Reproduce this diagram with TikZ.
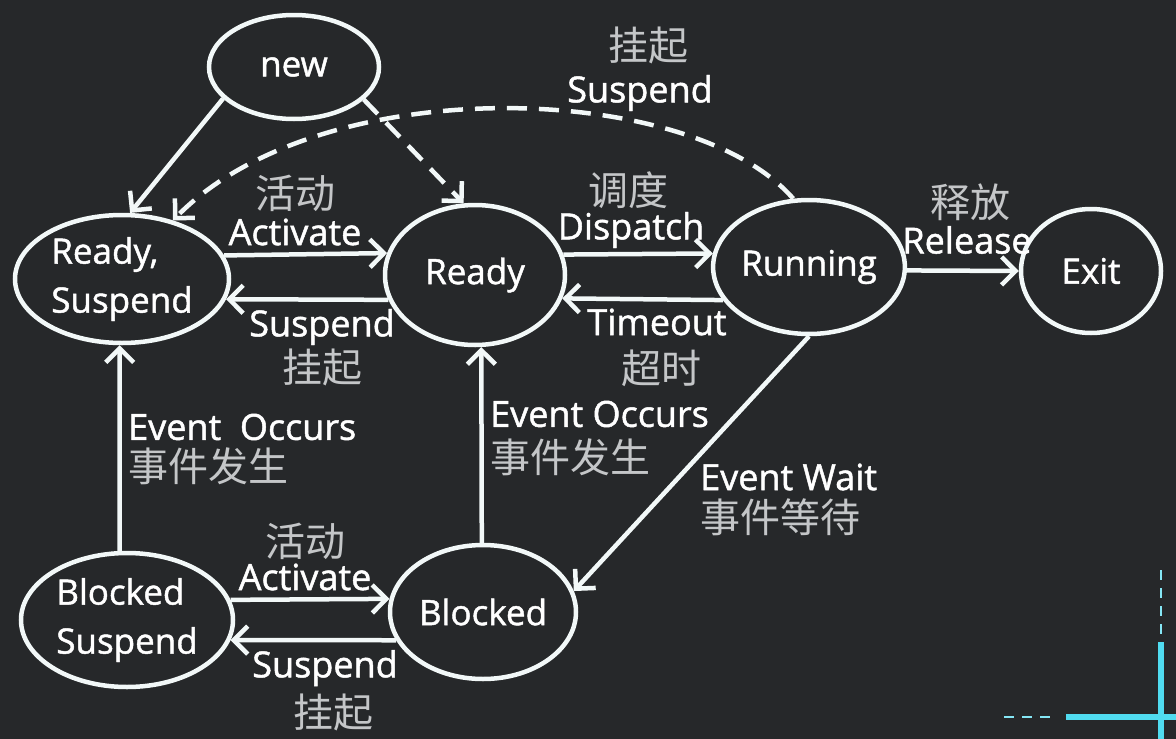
\documentclass[tikz,border=0pt]{standalone}
\usepackage{fontspec}
\setmainfont{Open Sans}[FakeBold=1.3,AutoFakeBold=1.3]
\newfontfamily\cjk{Noto Sans CJK SC}
\usetikzlibrary{arrows.meta,shapes.geometric}
\definecolor{bg}{RGB}{38,40,42}
\definecolor{ln}{RGB}{242,248,248}
\definecolor{cn}{RGB}{196,198,200}
\definecolor{cy}{RGB}{80,220,240}
\tikzset{
  st/.style={ellipse,draw=ln,line width=4.5pt,inner sep=0pt,text=white,align=center,
    font=\bfseries\fontsize{35}{49}\selectfont},
  en/.style={text=white,inner sep=0pt,font=\bfseries\fontsize{36}{40}\selectfont},
  zh/.style={text=cn,inner sep=0pt,font=\cjk\fontsize{40}{44}\selectfont},
  arr/.style={draw=ln,line width=4.5pt,-{Straight Barb[length=14pt,width=28pt,line width=4.5pt]}},
  dsh/.style={arr,dash pattern=on 20pt off 12pt},
}
\begin{document}
\begin{tikzpicture}[x=1pt,y=-1pt]
\fill[bg] (0,0) rectangle (1176,739);
\useasboundingbox (0,0) rectangle (1176,739);
% states
\node[st,minimum width=170pt,minimum height=104pt] (new) at (294,67) {new};
\node[st,minimum width=214pt,minimum height=128pt,align=left] (rs) at (122,279) {Ready,\\Suspend};
\node[st,minimum width=180pt,minimum height=140pt] (ready) at (475,275) {Ready};
\node[st,minimum width=176pt,minimum height=134pt] (run) at (809,267) {Running};
\node[st,minimum width=140pt,minimum height=124pt] (exit) at (1091,271) {Exit};
\node[st,minimum width=212pt,minimum height=134pt,align=left] (bs) at (127,620) {Blocked\\Suspend};
\node[st,minimum width=186pt,minimum height=134pt] (blk) at (483,612) {Blocked};
% edges
\draw[arr] (new.204.6) -- (rs.83);
\draw[dsh] (new.-25.2) -- (ready.99);
\draw[dsh] (run.103) .. controls (690,80) and (320,70) .. (rs.49);
\draw[arr] (rs.13.6) -- (ready.166.9);
\draw[arr] (ready.196.6) -- (rs.-11.7);
\draw[arr] (ready.13.1) -- (run.172.1);
\draw[arr] (run.201.7) -- (ready.-15.1);
\draw[arr] (run.-2) -- (exit.180);
\draw[arr] (bs.96) -- (rs.268);
\draw[arr] (blk.91) -- (ready.275.7);
\draw[arr] (run.270) -- (blk.13.3);
\draw[arr] (bs.11.2) -- (blk.172.5);
\draw[arr] (blk.198.3) -- (bs.-11.2);
% labels
\node[zh] (l1a) at (648,45) {挂起};
\node[en] (l1b) at (640,93) {Suspend};
\node[zh] (l2a) at (295,193) {活动};
\node[en] (l2b) at (295,232) {Activate};
\node[en] (l3a) at (322,327) {Suspend};
\node[zh] (l3b) at (322,367) {挂起};
\node[zh] (l4a) at (628,190) {调度};
\node[en] (l4b) at (631,230) {Dispatch};
\node[en] (l5a) at (657,322) {Timeout};
\node[zh] (l5b) at (661,368) {超时};
\node[zh] (l6a) at (970,202) {释放};
\node[en] (l6b) at (967,240) {Release};
\node[en,anchor=west] (l7a) at (128,427) {Event\ \ Occurs};
\node[zh,anchor=west] (l7b) at (128,466) {事件发生};
\node[en,anchor=west] (l8a) at (490,414) {Event Occurs};
\node[zh,anchor=west] (l8b) at (490,457) {事件发生};
\node[en,anchor=west] (l9a) at (700,477) {Event Wait};
\node[zh,anchor=west] (l9b) at (700,517) {事件等待};
\node[zh] (l10a) at (305,541) {活动};
\node[en] (l10b) at (305,577) {Activate};
\node[en] (l11a) at (325,668) {Suspend};
\node[zh] (l11b) at (333,712) {挂起};
% screen marker, bottom right
\draw[cy!70!white,line width=2pt,dash pattern=on 10pt off 8pt] (1161,570) -- (1161,637);
\draw[cy!70!white,line width=2pt,dash pattern=on 10pt off 8pt] (1004,717) -- (1056,717);
\draw[cy,line width=6pt] (1161,642) -- (1161,739);
\draw[cy,line width=6pt] (1066,717) -- (1176,717);
\end{tikzpicture}
\end{document}
